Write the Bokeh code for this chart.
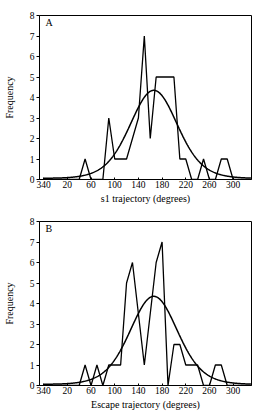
from bokeh.plotting import figure
from bokeh.layouts import column
from bokeh.models import FixedTicker, Range1d, Label
from bokeh.embed import file_html
from bokeh.resources import INLINE
import numpy as np

# Frequency polygons (10-degree bins; the axis is unwrapped so -20 stands for 340)
s1_angle = [-20, -10, 0, 10, 20, 30, 40, 50, 60, 70, 80, 90, 100, 110, 120, 130,
            140, 150, 160, 170, 180, 190, 200, 210, 220, 230, 240, 250, 260, 270,
            280, 290, 300, 310, 320, 330]
s1_count = [0, 0, 0, 0, 0, 0, 0, 1, 0, 0, 0, 3, 1, 1, 1, 2,
            3, 7, 2, 5, 5, 5, 5, 1, 1, 0, 0, 1, 0, 0,
            1, 1, 0, 0, 0, 0]

esc_angle = [-20, -10, 0, 10, 20, 30, 40, 50, 60, 70, 80, 90, 100, 110, 120, 130,
             150, 170, 180, 190, 200, 210, 220, 230, 240, 250, 260, 270,
             280, 290, 300, 310, 320, 330]
esc_count = [0, 0, 0, 0, 0, 0, 0, 1, 0, 1, 0, 1, 1, 1, 5, 6,
             1, 6, 7, 0, 2, 2, 1, 1, 1, 0, 0, 1,
             1, 0, 0, 0, 0, 0]

# Fitted circular (von Mises) curve parameters
fit_mean = 166.0
fit_kappa = 2.1
fit_peak = 4.35

tick_positions = [-20, 20, 60, 100, 140, 180, 220, 260, 300]
tick_labels = {-20: "340"}

FONT = "Liberation Serif"


def panel(tag, angles, counts, xlabel, top, bottom):
    p = figure(width=257, height=207, output_backend="svg", toolbar_location=None,
               x_range=Range1d(-27, 331), y_range=Range1d(0, 8),
               min_border_left=33, min_border_right=6,
               min_border_top=top, min_border_bottom=bottom)
    p.grid.visible = False
    p.outline_line_color = "black"
    p.outline_line_alpha = 1.0
    p.outline_line_width = 1

    xa = p.xaxis[0]
    xa.ticker = FixedTicker(ticks=tick_positions)
    xa.major_label_overrides = tick_labels
    xa.minor_tick_line_color = None
    xa.major_tick_in = 2
    xa.major_tick_out = 0
    xa.major_label_standoff = 1
    xa.axis_label = xlabel
    xa.axis_label_standoff = 2

    ya = p.yaxis[0]
    ya.ticker = FixedTicker(ticks=list(range(0, 9)))
    ya.minor_tick_line_color = None
    ya.major_tick_in = 0
    ya.major_tick_out = 3
    ya.major_label_standoff = 2
    ya.axis_label = "Frequency"
    ya.axis_label_standoff = 12

    for ax in (xa, ya):
        ax.axis_line_color = "black"
        ax.major_tick_line_color = "black"
        ax.major_label_text_font = FONT
        ax.major_label_text_font_size = "9.5px"
        ax.major_label_text_color = "black"
        ax.axis_label_text_font = FONT
        ax.axis_label_text_font_size = "10px"
        ax.axis_label_text_font_style = "normal"
        ax.axis_label_text_color = "black"

    theta = np.linspace(-20, 330, 400)
    curve = fit_peak * np.exp(fit_kappa * (np.cos(np.radians(theta - fit_mean)) - 1))
    p.line(theta, curve, line_color="black", line_width=1.5)
    p.line(angles, counts, line_color="black", line_width=1.3)

    p.add_layout(Label(x=-17, y=7.4, text=tag, text_font=FONT,
                       text_font_size="10px", text_color="black"))
    return p


pa = panel("A", s1_angle, s1_count, "s1 trajectory (degrees)", 15, 28)
pb = panel("B", esc_angle, esc_count, "Escape trajectory (degrees)", 14, 29)

layout = column(pa, pb, spacing=0)
open("out.html", "w").write(file_html(layout, INLINE))
